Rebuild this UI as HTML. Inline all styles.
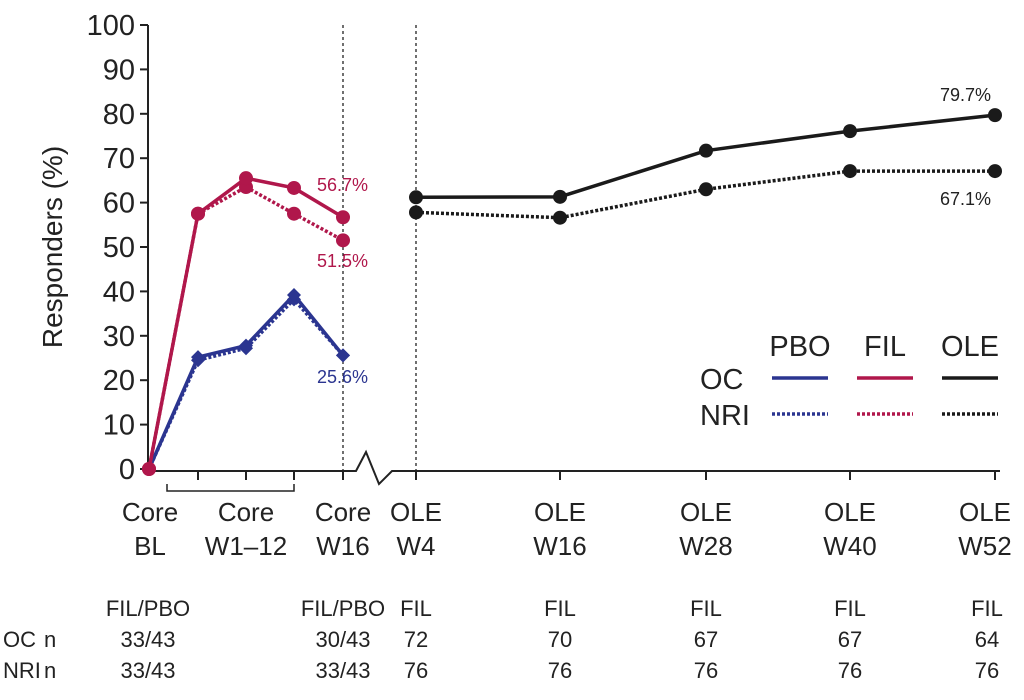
<!DOCTYPE html>
<html><head><meta charset="utf-8"><style>
body{margin:0;background:#fff}
svg{display:block;font-family:"Liberation Sans",Arial,sans-serif}
</style></head><body>
<svg id="c" width="1024" height="700">
<g id="axes"></g>
<g id="series"></g>
<g id="legend"></g>
<g id="table"></g>
</svg>
<script>
const xPos=[149,198,246,294,343,416,560,706,850,995];
const yTicks=[0,10,20,30,40,50,60,70,80,90,100];
const filOC=[0,57.5,65.5,63.3,56.7];
const filNRI=[0,57.5,63.5,57.5,51.5];
const pboOC=[0,25.2,27.8,39.2,25.6];
const pboNRI=[0,24.5,27.2,38.2,25.6];
const oleOC=[61.2,61.3,71.7,76.1,79.7];
const oleNRI=[57.8,56.6,63.0,67.1,67.1];
const NS='http://www.w3.org/2000/svg';
const y=v=>469-v*4.44;
function mk(p,t,a,txt){const e=document.createElementNS(NS,t);for(const k in a)e.setAttribute(k,a[k]);if(txt!==undefined)e.textContent=txt;p.appendChild(e);return e;}
const ax=document.getElementById('axes');
mk(ax,'line',{x1:148,y1:y(100),x2:148,y2:471,stroke:'#222','stroke-width':2});
yTicks.forEach(t=>{mk(ax,'line',{x1:140,y1:y(t),x2:148,y2:y(t),stroke:'#222','stroke-width':2});
const l=mk(ax,'text',{x:135,y:y(t)+10,'text-anchor':'end','font-size':29,fill:'#222'},t);

});
const yt=mk(ax,'text',{x:62,y:247,'text-anchor':'middle','font-size':28,fill:'#222',transform:'rotate(-90 62 247)'},'Responders (%)');

mk(ax,'path',{d:'M148 471H356L366 452L379 484L392 471H1000',fill:'none',stroke:'#222','stroke-width':2});
xPos.forEach((x,i)=>{if(i>0)mk(ax,'line',{x1:x,y1:471,x2:x,y2:480,stroke:'#222','stroke-width':2});});
mk(ax,'path',{d:'M167 484V491H294V484',fill:'none',stroke:'#222','stroke-width':1.5});
mk(ax,'line',{x1:343,y1:25,x2:343,y2:471,stroke:'#222','stroke-width':1.3,'stroke-dasharray':'3,3'});
mk(ax,'line',{x1:416,y1:25,x2:416,y2:471,stroke:'#222','stroke-width':1.3,'stroke-dasharray':'3,3'});
const xl=[[150,'Core','BL'],[246,'Core','W1–12'],[343,'Core','W16'],[416,'OLE','W4'],[560,'OLE','W16'],[706,'OLE','W28'],[850,'OLE','W40'],[985,'OLE','W52']];
xl.forEach(a=>{const g=mk(ax,'g',{});
mk(g,'text',{x:a[0],y:521,'text-anchor':'middle','font-size':26,fill:'#222'},a[1]);
mk(g,'text',{x:a[0],y:555,'text-anchor':'middle','font-size':26,fill:'#222'},a[2]);});
const se=document.getElementById('series');
function line(vals,xs,col,dash,marker,name){const g=mk(se,'g',{});
mk(g,'polyline',{points:vals.map((v,i)=>xs[i]+','+y(v)).join(' '),fill:'none',stroke:col,'stroke-width':3.5,'stroke-dasharray':dash?'3,2':'none'});
vals.forEach((v,i)=>{let m;if(marker==='d')m=mk(g,'path',{d:`M${xs[i]} ${y(v)-7}l7 7l-7 7l-7 -7z`,fill:col});else m=mk(g,'circle',{cx:xs[i],cy:y(v),r:7,fill:col});
});}
const core=xPos.slice(0,5),ole=xPos.slice(5);
line(pboNRI,core,'#2b3590',true,'d','pbo-nri-line');
line(pboOC,core,'#2b3590',false,'d','pbo-oc-line');
line(filNRI,core,'#b0174b',true,'c','fil-nri-line');
line(filOC,core,'#b0174b',false,'c','fil-oc-line');
line(oleNRI,ole,'#1a1a1a',true,'c','ole-nri-line');
line(oleOC,ole,'#1a1a1a',false,'c','ole-oc-line');
const lab=(x,yy,c,t,n)=>{const e=mk(se,'text',{x:x,y:yy,'font-size':18,fill:c},t);};
lab(317,191,'#b0174b',filOC[4].toFixed(1)+'%','fil-oc-label');
lab(317,267,'#b0174b',filNRI[4].toFixed(1)+'%','fil-nri-label');
lab(317,383,'#2b3590',pboOC[4].toFixed(1)+'%','pbo-oc-label');
lab(940,101,'#222',oleOC[4].toFixed(1)+'%','ole-oc-label');
lab(940,205,'#222',oleNRI[4].toFixed(1)+'%','ole-nri-label');
const lg=document.getElementById('legend');
[['PBO',800,'#2b3590'],['FIL',885,'#b0174b'],['OLE',970,'#1a1a1a']].forEach(a=>{
mk(lg,'text',{x:a[1],y:356,'text-anchor':'middle','font-size':29,fill:'#222'},a[0]);
mk(lg,'line',{x1:a[1]-28,y1:378,x2:a[1]+28,y2:378,stroke:a[2],'stroke-width':3.5});
mk(lg,'line',{x1:a[1]-28,y1:414,x2:a[1]+28,y2:414,stroke:a[2],'stroke-width':3.5,'stroke-dasharray':'3,2'});});
mk(lg,'text',{x:700,y:389,'font-size':29,fill:'#222'},'OC');
mk(lg,'text',{x:700,y:425,'font-size':29,fill:'#222'},'NRI');
const tb=document.getElementById('table');
const cols=[[148,'FIL/PBO','33/43','33/43'],[343,'FIL/PBO','30/43','33/43'],[416,'FIL','72','76'],[560,'FIL','70','76'],[706,'FIL','67','76'],[850,'FIL','67','76'],[987,'FIL','64','76']];
cols.forEach(c=>{[c[1],c[2],c[3]].forEach((t,j)=>mk(tb,'text',{x:c[0],y:616+j*31,'text-anchor':'middle','font-size':22,fill:'#222'},t));});
mk(tb,'text',{x:3,y:647,'font-size':22,fill:'#222'},'OC');
mk(tb,'text',{x:3,y:678,'font-size':22,fill:'#222'},'NRI');
mk(tb,'text',{x:44,y:647,'font-size':22,fill:'#222'},'n');
mk(tb,'text',{x:44,y:678,'font-size':22,fill:'#222'},'n');
</script>
</body></html>
